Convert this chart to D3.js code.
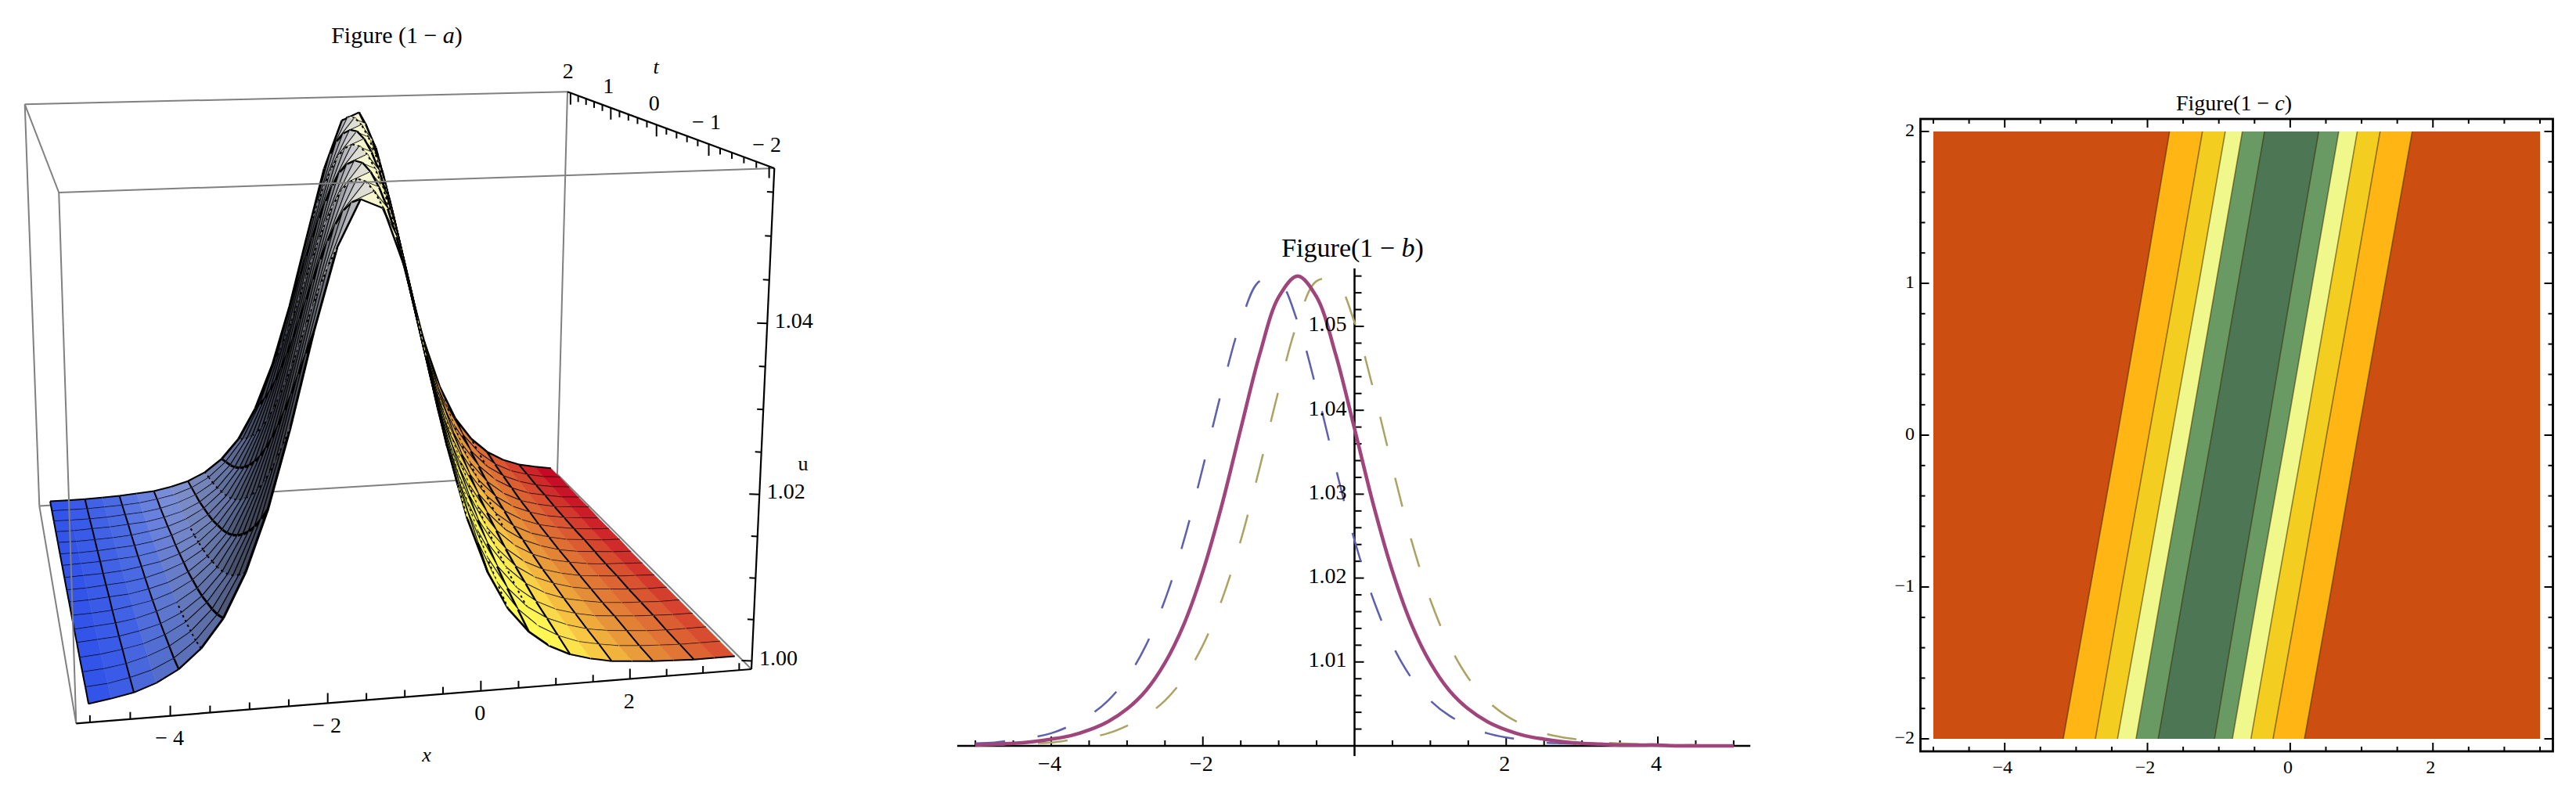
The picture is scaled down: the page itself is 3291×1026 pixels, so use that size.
<!DOCTYPE html>
<html>
<head>
<meta charset="utf-8">
<script src="https://cdn.jsdelivr.net/npm/d3@7"></script>
<style>
html, body { margin: 0; padding: 0; background: #fff; }
text { font-family: "Liberation Serif", serif; fill: #000; }
</style>
</head>
<body>
<svg id="chart" width="3291" height="1026"></svg>
<script>
// all values are estimates (curve heights, ridge position, band edges)

// ---- figure (1-a): surface height above 1, in units of 0.0001, one row per t, one column per x
var surfT = [-2, -1.75, -1.5, -1.25, -1, -0.75, -0.5, -0.25, 0, 0.25, 0.5, 0.75, 1, 1.25, 1.5, 1.75, 2];
var surfX = [-5, -4.717, -4.433, -4.15, -3.867, -3.583, -3.3, -3.017, -2.733, -2.45, -2.167, -1.883, -1.6, -1.317, -1.033, -0.75, -0.467, -0.183, 0.1, 0.383, 0.667, 0.95, 1.233, 1.517, 1.8, 2.083, 2.367, 2.65, 2.933, 3.217, 3.5];
var surfU = [
    [5,9,14,23,37,59,92,143,214,306,411,504,556,545,476,376,274,188,124,79,50,31,19,12,7,5,3,2,1,1,1],
    [5,7,12,19,31,50,79,124,188,274,376,476,545,556,504,411,306,214,143,92,59,37,23,14,9,5,3,2,1,1,1],
    [4,6,10,17,27,43,68,107,164,243,341,445,528,560,528,445,341,243,164,107,68,43,27,17,10,6,4,2,1,1,1],
    [3,5,9,14,23,37,59,92,143,214,306,411,504,556,545,476,376,274,188,124,79,50,31,19,12,7,5,3,2,1,1],
    [3,5,7,12,19,31,50,79,124,188,274,376,476,545,556,504,411,306,214,143,92,59,37,23,14,9,5,3,2,1,1],
    [2,4,6,10,17,27,43,68,107,164,243,341,445,528,560,528,445,341,243,164,107,68,43,27,17,10,6,4,2,1,1],
    [2,3,5,9,14,23,37,59,92,143,214,306,411,504,556,545,476,376,274,188,124,79,50,31,19,12,7,5,3,2,1],
    [2,3,5,7,12,19,31,50,79,124,188,274,376,476,545,556,504,411,306,214,143,92,59,37,23,14,9,5,3,2,1],
    [1,2,4,6,10,17,27,43,68,107,164,243,341,445,528,560,528,445,341,243,164,107,68,43,27,17,10,6,4,2,1],
    [1,2,3,5,9,14,23,37,59,92,143,214,306,411,504,556,545,476,376,274,188,124,79,50,31,19,12,7,5,3,2],
    [1,2,3,5,7,12,19,31,50,79,124,188,274,376,476,545,556,504,411,306,214,143,92,59,37,23,14,9,5,3,2],
    [1,1,2,4,6,10,17,27,43,68,107,164,243,341,445,528,560,528,445,341,243,164,107,68,43,27,17,10,6,4,2],
    [1,1,2,3,5,9,14,23,37,59,92,143,214,306,411,504,556,545,476,376,274,188,124,79,50,31,19,12,7,5,3],
    [1,1,2,3,5,7,12,19,31,50,79,124,188,274,376,476,545,556,504,411,306,214,143,92,59,37,23,14,9,5,3],
    [1,1,1,2,4,6,10,17,27,43,68,107,164,243,341,445,528,560,528,445,341,243,164,107,68,43,27,17,10,6,4],
    [1,1,1,2,3,5,9,14,23,37,59,92,143,214,306,411,504,556,545,476,376,274,188,124,79,50,31,19,12,7,5],
    [1,1,1,2,3,5,7,12,19,31,50,79,124,188,274,376,476,545,556,504,411,306,214,143,92,59,37,23,14,9,5]
];
// x position of the crest in each t row (from the contour picture)
var ridgeX = [-1.506, -1.411, -1.317, -1.222, -1.128, -1.033, -0.939, -0.844, -0.75, -0.656, -0.561, -0.467, -0.372, -0.278, -0.183, -0.089, 0.006];

var aXTicks = [-4, -2, 0, 2];
var aTTicks = [2, 1, 0, -1, -2];
var aUTicks = [1.00, 1.02, 1.04];

// ---- figure (1-b): three profiles, height above 1 in units of 0.0001
var profX = [-5,-4.75,-4.5,-4.25,-4,-3.75,-3.5,-3.25,-3,-2.75,-2.5,-2.25,-2,-1.75,-1.5,-1.25,-1,-0.75,-0.5,-0.25,0,0.25,0.5,0.75,1,1.25,1.5,1.75,2,2.25,2.5,2.75,3,3.25,3.5,3.75,4,4.25,4.5,4.75,5];
var profMid = [1,2,3,5,8,12,19,29,44,66,99,145,208,287,378,467,535,560,535,467,378,287,208,145,99,66,44,29,19,12,8,5,3,2,1,1,1,0,0,0,0];
var profBlue = [3,4,7,10,15,24,36,54,81,120,174,245,332,424,505,554,554,505,424,332,245,174,120,81,54,36,24,15,10,7,4,3,2,1,1,1,0,0,0,0,0];
var profOlive = [1,1,2,3,4,7,10,15,24,36,54,81,120,174,245,332,424,505,554,554,505,424,332,245,174,120,81,54,36,24,15,10,7,4,3,2,1,1,1,0,0];
var bXTicks = [-4, -2, 2, 4];
var bUTicks = [1.01, 1.02, 1.03, 1.04, 1.05];

// ---- figure (1-c): contour band edges (x) at each t row, outer band first
var contT = [-2, -1, 0, 1, 2];
var orangeL = [-3.18, -2.80, -2.42, -2.05, -1.69];
var orangeR = [0.20, 0.58, 0.95, 1.33, 1.71];
var yellowL = [-2.73, -2.36, -1.98, -1.60, -1.23];
var yellowR = [-0.24, 0.14, 0.51, 0.89, 1.26];
var paleL = [-2.42, -2.04, -1.66, -1.28, -0.91];
var paleR = [-0.55, -0.18, 0.20, 0.57, 0.94];
var greenL = [-2.16, -1.79, -1.41, -1.04, -0.67];
var greenR = [-0.81, -0.44, -0.06, 0.31, 0.68];
var darkL = [-1.85, -1.48, -1.10, -0.73, -0.36];
var darkR = [-1.06, -0.70, -0.33, 0.03, 0.40];
var cXTicks = [-4, -2, 0, 2];
var cTTicks = [-2, -1, 0, 1, 2];

var svg = d3.select('#chart');

function minus(v, gap) {
    return v < 0 ? '\u2212' + gap + Math.abs(v) : '' + v;
}

function title(x, y, size, before, italic) {
    var t = svg.append('text').attr('x', x).attr('y', y).attr('font-size', size)
        .attr('text-anchor', 'middle').attr('dominant-baseline', 'middle');
    t.append('tspan').text(before);
    t.append('tspan').attr('font-style', 'italic').text(italic);
    t.append('tspan').text(')');
}

function label(g, x, y, size, str) {
    return g.append('text').attr('x', x).attr('y', y).attr('font-size', size)
        .attr('text-anchor', 'middle').attr('dominant-baseline', 'middle').text(str);
}

// ======== figure (1-a) ========
var boxBottom = [[97.3, 924.3], [960, 855], [712, 606], [50.3, 646.6]];
var boxTop = [[75.2, 246], [989.3, 215], [725, 117.3], [31.7, 133.3]];
var xNorm = d3.scaleLinear().domain([-5.17, 3.67]).range([0, 1]);
var tNorm = d3.scaleLinear().domain([-2.08, 2.08]).range([0, 1]);
var uNorm = d3.scaleLinear().domain([0.999, 1.0577]).range([0, 1]);

// unit square to quad (front-left, front-right, back-right, back-left)
function quadMap(q) {
    var x0 = q[0][0], y0 = q[0][1], x1 = q[1][0], y1 = q[1][1], x2 = q[2][0], y2 = q[2][1], x3 = q[3][0], y3 = q[3][1];
    var dx1 = x1 - x2, dx2 = x3 - x2, sx = x0 - x1 + x2 - x3;
    var dy1 = y1 - y2, dy2 = y3 - y2, sy = y0 - y1 + y2 - y3;
    var det = dx1 * dy2 - dx2 * dy1;
    var g = (sx * dy2 - dx2 * sy) / det, h = (dx1 * sy - sx * dy1) / det;
    return function(u, v) {
        var w = g * u + h * v + 1;
        return [((x1 - x0 + g * x1) * u + (x3 - x0 + h * x3) * v + x0) / w,
                ((y1 - y0 + g * y1) * u + (y3 - y0 + h * y3) * v + y0) / w];
    };
}
var mapBottom = quadMap(boxBottom), mapTop = quadMap(boxTop);

function project(x, t, u) {
    var a = mapBottom(xNorm(x), tNorm(t)), b = mapTop(xNorm(x), tNorm(t));
    var s = uNorm(u);
    s = s / (s + 1.04 * (1 - s));
    return [a[0] + (b[0] - a[0]) * s, a[1] + (b[1] - a[1]) * s];
}

var poly = d3.line();
var gA = svg.append('g');

// box edges behind the surface
var boxBack = [[boxTop[3], boxTop[2]], [boxTop[3], boxBottom[3]], [boxTop[2], boxBottom[2]], [boxBottom[3], boxBottom[2]], [boxBottom[2], boxBottom[1]], [boxTop[3], boxTop[0]]];
gA.selectAll('path.back').data(boxBack).enter().append('path').attr('class', 'back')
    .attr('d', poly).attr('fill', 'none').attr('stroke', '#808080').attr('stroke-width', 2);

// colours: left side blue to slate, crest pale, right side yellow to red
var leftBase = d3.scaleLinear().domain([-5, -4, -3, -2]).range(['#2f50ea', '#4a6ae4', '#8294da', '#8a94c0']);
var rightBase = d3.scaleLinear().domain([-1, 0, 0.8, 1.4, 2, 3, 3.5]).range(['#ffff60', '#ffff58', '#fff452', '#f6c040', '#e59038', '#d95030', '#cc2028']);
var crestTone = d3.scaleLinear().domain([-3, -2, -1.5, -1, -0.5, -0.2, 0]).range(['#6f80b0', '#55658f', '#454c62', '#3c3e48', '#80828a', '#c8c8cc', '#f2f2dc']).clamp(true);
var leftMix = d3.scaleLinear().domain([-3.2, -1.6]).range([0, 1]).clamp(true);
var rightMix = d3.scaleLinear().domain([0, 0.9]).range([0, 1]).clamp(true);
// mesh gets heavier where the surface is steep and the lines crowd together
var meshWidth = d3.scaleLinear().domain([-2.6, -1.5, -0.5, 0, 0.6, 2.2, 3]).range([2, 3.4, 3, 2.2, 2.8, 2.6, 2]).clamp(true);

function cellColor(x, t, d) {
    if (d < 0) return d3.interpolateRgb(leftBase(x), crestTone(d))(leftMix(d));
    return d3.interpolateRgb('#f6f6d0', rightBase(x + 0.2 * t))(rightMix(d));
}

function cellOffset(c) {
    return (surfX[c.j] + surfX[c.j + 1]) / 2 - (ridgeX[c.k] + ridgeX[c.k + 1]) / 2;
}

function vertex(j, k) {
    return project(surfX[j], surfT[k], 1 + surfU[k][j] / 10000);
}

// back rows first so that the nearer rows cover them
var cells = [];
d3.range(surfT.length - 2, -1, -1).forEach(function(k) {
    d3.range(0, surfX.length - 1).forEach(function(j) {
        cells.push({ j: j, k: k });
    });
});

var cellG = gA.selectAll('g.cell').data(cells).enter().append('g').attr('class', 'cell');
cellG.append('path')
    .attr('d', function(c) { return poly([vertex(c.j, c.k), vertex(c.j + 1, c.k), vertex(c.j + 1, c.k + 1), vertex(c.j, c.k + 1)]) + 'Z'; })
    .attr('fill', function(c) {
        return cellColor((surfX[c.j] + surfX[c.j + 1]) / 2, (surfT[c.k] + surfT[c.k + 1]) / 2, cellOffset(c));
    })
    .attr('stroke', function() { return d3.select(this).attr('fill'); })
    .attr('stroke-width', 0.6);
// the odd columns show up only as broken dots on the slopes
cellG.filter(function(c) { return c.j % 2 === 1 && Math.abs(cellOffset(c)) < 2.4; }).append('path')
    .attr('d', function(c) { return poly([vertex(c.j, c.k), vertex(c.j, c.k + 1)]); })
    .attr('fill', 'none').attr('stroke', '#000').attr('stroke-width', 2).attr('stroke-dasharray', '3,4');
cellG.append('path')
    .attr('d', function(c) {
        var s = poly([vertex(c.j, c.k), vertex(c.j + 1, c.k)]);
        if (c.k === surfT.length - 2) s += poly([vertex(c.j, c.k + 1), vertex(c.j + 1, c.k + 1)]);
        if (c.j % 2 === 0) s += poly([vertex(c.j, c.k), vertex(c.j, c.k + 1)]);
        return s;
    })
    .attr('fill', 'none').attr('stroke', '#000')
    .attr('stroke-width', function(c) { return meshWidth(cellOffset(c)); });

// box edges in front of the surface
var boxFront = [[boxTop[0], boxTop[1]], [boxTop[0], boxBottom[0]], [boxBottom[3], boxBottom[0]]];
gA.selectAll('path.front').data(boxFront).enter().append('path').attr('class', 'front')
    .attr('d', poly).attr('fill', 'none').attr('stroke', '#808080').attr('stroke-width', 2);

// axes: x along the front bottom edge, t along the top right edge, u up the front right edge
var axesA = [[boxBottom[0], boxBottom[1]], [boxTop[2], boxTop[1]], [boxBottom[1], boxTop[1]]];
gA.selectAll('path.axis').data(axesA).enter().append('path').attr('class', 'axis')
    .attr('d', poly).attr('fill', 'none').attr('stroke', '#000').attr('stroke-width', 2.2);

var xEdgeT = -2.08, xEdgeU = 0.999;
d3.range(-5, 3.51, 0.5).forEach(function(v) {
    var p = project(v, xEdgeT, xEdgeU), len = v % 2 === 0 ? 13 : 9;
    gA.append('line').attr('x1', p[0]).attr('y1', p[1]).attr('x2', p[0]).attr('y2', p[1] - len)
        .attr('stroke', '#000').attr('stroke-width', 2);
});
d3.range(-2, 2.01, 0.2).forEach(function(v) {
    var p = project(3.67, v, 1.0577), len = Math.abs(v - Math.round(v)) < 0.01 ? 15 : 8;
    gA.append('line').attr('x1', p[0]).attr('y1', p[1]).attr('x2', p[0]).attr('y2', p[1] + len)
        .attr('stroke', '#000').attr('stroke-width', 2);
});
d3.range(1, 1.0551, 0.005).forEach(function(v) {
    var p = project(3.67, -2.08, v), len = Math.abs(v * 100 - Math.round(v * 50) * 2) < 0.01 ? 13 : 8;
    gA.append('line').attr('x1', p[0]).attr('y1', p[1]).attr('x2', p[0] - len).attr('y2', p[1] - 0.5)
        .attr('stroke', '#000').attr('stroke-width', 2);
});
aXTicks.forEach(function(v) {
    var p = project(v, xEdgeT, xEdgeU);
    label(gA, p[0] - 1, p[1] + 31, 28, minus(v, ' '));
});
aTTicks.forEach(function(v) {
    var p = project(3.67, v, 1.0577);
    label(gA, p[0] - 3, p[1] - 25, 28, minus(v, ' '));
});
aUTicks.forEach(function(v) {
    var p = project(3.67, -2.08, v);
    label(gA, p[0] + 34, p[1] - 1, 28, v.toFixed(2));
});
label(gA, 545, 967, 26, 'x').attr('font-style', 'italic');
label(gA, 838, 88, 26, 't').attr('font-style', 'italic');
label(gA, 1026, 595, 26, 'u');
title(507, 48, 30, 'Figure (1 \u2212 ', 'a');

// ======== figure (1-b) ========
var bx = d3.scaleLinear().domain([-4, 4]).range([1343, 2118]);
var by = d3.scaleLinear().domain([1, 1.05]).range([953, 417]);
var gB = svg.append('g');
var profLine = d3.line()
    .x(function(d, i) { return bx(profX[i]); })
    .y(function(d) { return by(1 + d / 10000); })
    .curve(d3.curveCatmullRom);

gB.append('line').attr('x1', bx(-5.24)).attr('x2', bx(5.22)).attr('y1', by(1)).attr('y2', by(1)).attr('stroke', '#000').attr('stroke-width', 2.5);
gB.append('line').attr('x1', bx(0)).attr('x2', bx(0)).attr('y1', 343).attr('y2', 966).attr('stroke', '#000').attr('stroke-width', 2.5);
d3.range(-5, 5.01, 0.5).forEach(function(v) {
    if (v === 0) return;
    gB.append('line').attr('x1', bx(v)).attr('x2', bx(v)).attr('y1', by(1)).attr('y2', by(1) - (v % 2 === 0 ? 12 : 7))
        .attr('stroke', '#000').attr('stroke-width', 2);
});
d3.range(1.002, 1.0561, 0.002).forEach(function(v) {
    var major = Math.abs(v * 100 - Math.round(v * 100)) < 0.01;
    gB.append('line').attr('x1', bx(0)).attr('x2', bx(0) + (major ? 12 : 9)).attr('y1', by(v)).attr('y2', by(v))
        .attr('stroke', '#000').attr('stroke-width', 2);
});
gB.append('path').attr('d', profLine(profBlue)).attr('fill', 'none').attr('stroke', '#5f5fb0').attr('stroke-width', 2.5).attr('stroke-dasharray', '38,42');
gB.append('path').attr('d', profLine(profOlive)).attr('fill', 'none').attr('stroke', '#aca262').attr('stroke-width', 2.5).attr('stroke-dasharray', '38,42');
gB.append('path').attr('d', profLine(profMid)).attr('fill', 'none').attr('stroke', '#a0457c').attr('stroke-width', 4.5);
bXTicks.forEach(function(v) { label(gB, bx(v) - 2, 979, 28, minus(v, '')); });
bUTicks.forEach(function(v) {
    label(gB, 1696, by(v), 28, v.toFixed(2));
});
title(1728, 320, 34, 'Figure(1 \u2212 ', 'b');

// ======== figure (1-c) ========
var cx = d3.scaleLinear().domain([-5, 3.5]).range([2470, 3245]);
var cy = d3.scaleLinear().domain([-2, 2]).range([944, 168]);
var gC = svg.append('g');
var bands = [
    { left: [-5, -5, -5, -5, -5], right: [3.5, 3.5, 3.5, 3.5, 3.5], color: '#cc4e10' },
    { left: orangeL, right: orangeR, color: '#ffb514' },
    { left: yellowL, right: yellowR, color: '#f3cd1f' },
    { left: paleL, right: paleR, color: '#f0f88c' },
    { left: greenL, right: greenR, color: '#6a9a64' },
    { left: darkL, right: darkR, color: '#4d7654' }
];
var bandArea = d3.area()
    .y(function(d) { return cy(d.t); })
    .x0(function(d) { return cx(d.l); })
    .x1(function(d) { return cx(d.r); });
var bandEdge = d3.line();
bands.forEach(function(b, n) {
    var rows = contT.map(function(t, i) { return { t: t, l: b.left[i], r: b.right[i] }; });
    gC.append('path').attr('d', bandArea(rows)).attr('fill', b.color);
    if (n > 0) {
        [b.left, b.right].forEach(function(e) {
            gC.append('path').attr('fill', 'none').attr('stroke', '#3c2a05').attr('stroke-opacity', 0.55).attr('stroke-width', 1.6)
                .attr('d', bandEdge(contT.map(function(t, i) { return [cx(e[i]), cy(t)]; })));
        });
    }
});
var frameL = 2453.5, frameR = 3261.5, frameT = 152, frameB = 960;
gC.append('rect').attr('x', frameL).attr('y', frameT).attr('width', frameR - frameL).attr('height', frameB - frameT)
    .attr('fill', 'none').attr('stroke', '#000').attr('stroke-width', 2.8);
d3.range(-5, 3.51, 0.5).forEach(function(v) {
    var len = v % 2 === 0 ? 11 : 6;
    [[frameB, -len], [frameT, len]].forEach(function(s) {
        gC.append('line').attr('x1', cx(v)).attr('x2', cx(v)).attr('y1', s[0]).attr('y2', s[0] + s[1]).attr('stroke', '#000').attr('stroke-width', 2);
    });
});
d3.range(-2, 2.01, 0.2).forEach(function(v) {
    var len = Math.abs(v - Math.round(v)) < 0.01 ? 11 : 6;
    [[frameL, len], [frameR, -len]].forEach(function(s) {
        gC.append('line').attr('x1', s[0]).attr('x2', s[0] + s[1]).attr('y1', cy(v)).attr('y2', cy(v)).attr('stroke', '#000').attr('stroke-width', 2);
    });
});
cXTicks.forEach(function(v) { label(gC, cx(v) - 3, 982, 24, minus(v, '')); });
cTTicks.forEach(function(v) {
    gC.append('text').attr('x', 2446).attr('y', cy(v)).attr('font-size', 24).attr('text-anchor', 'end')
        .attr('dominant-baseline', 'middle').text(minus(v, ''));
});
title(2854, 135, 28, 'Figure(1 \u2212 ', 'c');
</script>
</body>
</html>
